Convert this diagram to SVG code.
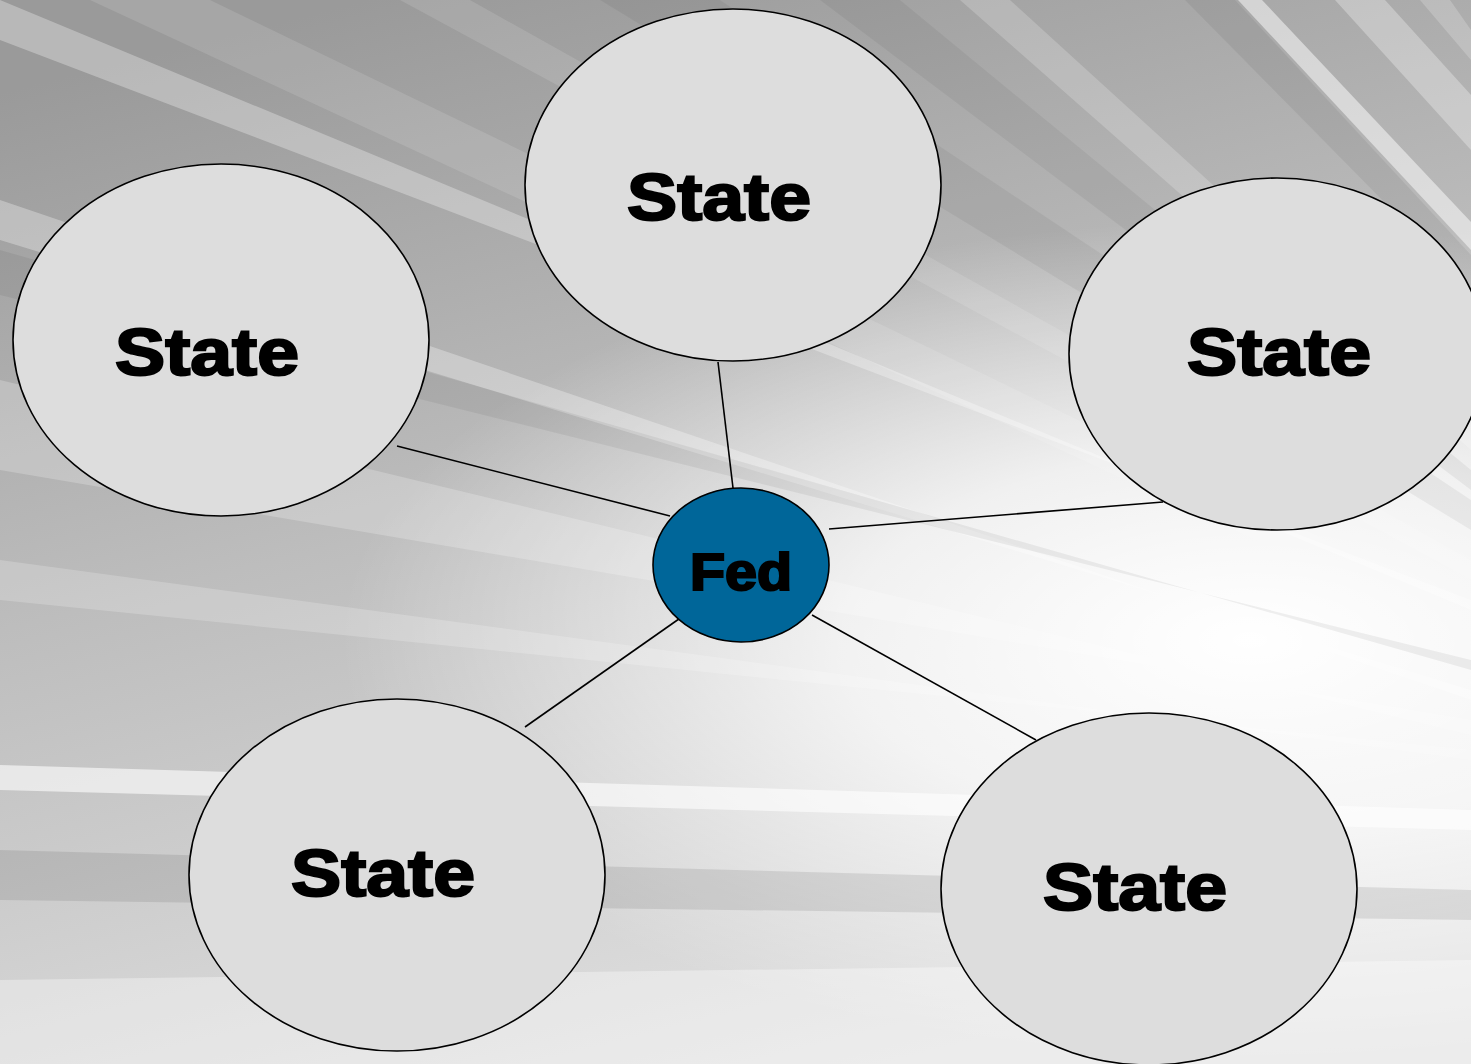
<svg xmlns="http://www.w3.org/2000/svg" width="1471" height="1064" viewBox="0 0 1471 1064">
<defs>
<linearGradient id="bg" x1="0.25" y1="0" x2="0.6" y2="1">
<stop offset="0" stop-color="#9a9a9a"/>
<stop offset="0.45" stop-color="#bdbdbd"/>
<stop offset="1" stop-color="#e2e2e2"/>
</linearGradient>
<radialGradient id="glow" cx="1250" cy="640" r="700" gradientUnits="userSpaceOnUse" gradientTransform="translate(1250 640) scale(1.3 0.6) rotate(12) translate(-1250 -640)">
<stop offset="0" stop-color="#ffffff" stop-opacity="1"/>
<stop offset="0.45" stop-color="#ffffff" stop-opacity="0.75"/>
<stop offset="1" stop-color="#ffffff" stop-opacity="0"/>
</radialGradient>
<style>
.state{fill:#dddddd;stroke:#000;stroke-width:1.6}
.fed{fill:#006699;stroke:#000;stroke-width:1.6}
.lbl{font-family:"Liberation Sans",Arial,sans-serif;font-weight:bold;fill:#000;stroke:#000;stroke-width:2.2;text-anchor:middle}
.big{font-size:66px}
.small{font-size:51px}
.conn line{stroke:#000;stroke-width:1.6}
.lt{fill:#fff}
.dk{fill:#000}
</style>
</defs>
<g id="background">
<rect width="1471" height="1064" fill="url(#bg)"/>
<rect width="1471" height="1064" fill="url(#glow)"/>
<polygon class="lt" opacity="0.12" points="90,0 210,0 1471,610 1471,640"/>
<polygon class="lt" opacity="0.12" points="400,0 470,0 1471,560 1471,580"/>
<polygon class="dk" opacity="0.05" points="600,0 720,0 1471,500 1471,530"/>
<polygon class="lt" opacity="0.2" points="960,0 1010,0 1471,420 1471,450"/>
<polygon class="dk" opacity="0.06" points="1185,0 1235,0 1471,255 1471,290"/>
<polygon class="lt" opacity="0.5" points="1238,0 1262,0 1471,222 1471,250"/>
<polygon class="lt" opacity="0.3" points="1335,0 1385,0 1471,95 1471,150"/>
<polygon class="lt" opacity="0.2" points="1420,0 1450,0 1471,30 1471,60"/>
<polygon class="lt" opacity="0.3" points="0,200 0,240 1471,690 1471,700"/>
<polygon class="dk" opacity="0.06" points="0,250 0,295 1471,660 1471,670"/>
<polygon class="lt" opacity="0.22" points="0,380 0,470 1471,720 1471,735"/>
<polygon class="lt" opacity="0.2" points="0,560 0,600 1471,750 1471,760"/>
<polygon class="lt" opacity="0.3" points="0,0 0,40 1471,600 1471,610"/>
<polygon class="dk" opacity="0.05" points="820,0 900,0 1471,470 1471,490"/>
<polygon class="lt" opacity="0.6" points="0,765 0,790 1471,830 1471,810"/>
<polygon class="dk" opacity="0.09" points="0,850 0,900 1471,920 1471,890"/>
<polygon class="lt" opacity="0.35" points="0,980 0,1064 1471,1064 1471,960"/>
</g>
<g id="connectors" class="conn">
<line x1="718" y1="362" x2="733" y2="488"/>
<line x1="397" y1="446" x2="670" y2="516"/>
<line x1="829" y1="529" x2="1163" y2="502"/>
<line x1="686" y1="614" x2="525" y2="727"/>
<line x1="812" y1="615" x2="1036" y2="740"/>
</g>
<g id="state-top">
<ellipse class="state" cx="733" cy="185" rx="208" ry="176"/>
<text class="lbl big" x="719" y="220" textLength="184" lengthAdjust="spacingAndGlyphs">State</text>
</g>
<g id="state-left">
<ellipse class="state" cx="221" cy="340" rx="208" ry="176"/>
<text class="lbl big" x="207" y="375" textLength="184" lengthAdjust="spacingAndGlyphs">State</text>
</g>
<g id="state-right">
<ellipse class="state" cx="1277" cy="354" rx="208" ry="176"/>
<text class="lbl big" x="1279" y="375" textLength="184" lengthAdjust="spacingAndGlyphs">State</text>
</g>
<g id="state-bottom-left">
<ellipse class="state" cx="397" cy="875" rx="208" ry="176"/>
<text class="lbl big" x="383" y="896" textLength="184" lengthAdjust="spacingAndGlyphs">State</text>
</g>
<g id="state-bottom-right">
<ellipse class="state" cx="1149" cy="889" rx="208" ry="176"/>
<text class="lbl big" x="1135" y="910" textLength="184" lengthAdjust="spacingAndGlyphs">State</text>
</g>
<g id="fed">
<ellipse class="fed" cx="741" cy="565" rx="88" ry="77"/>
<text class="lbl small" x="741" y="590" textLength="102" lengthAdjust="spacingAndGlyphs">Fed</text>
</g>
</svg>
